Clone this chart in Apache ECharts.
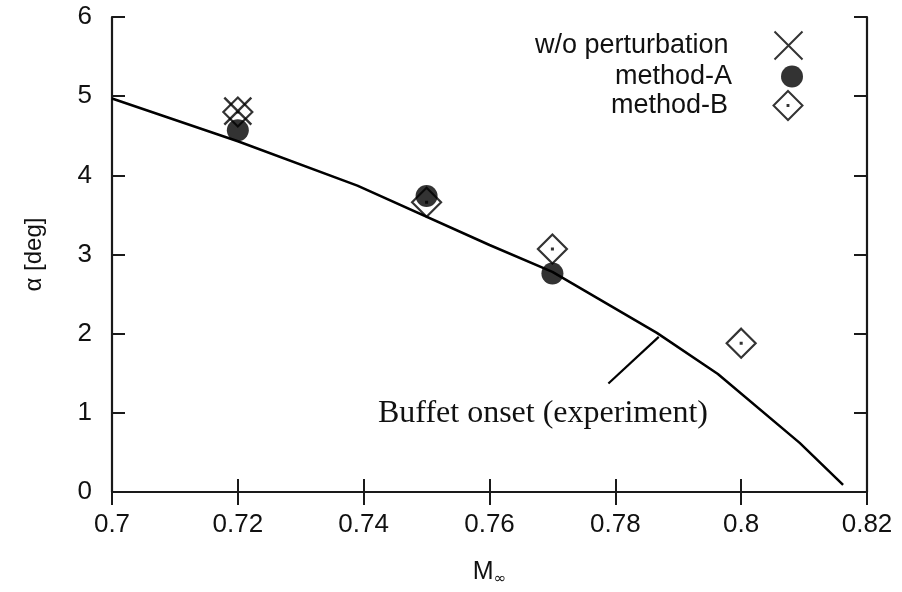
<!DOCTYPE html>
<html>
<head>
<meta charset="utf-8">
<script src="https://cdn.jsdelivr.net/npm/echarts@6/dist/echarts.min.js"></script>
<style>
  html, body { margin: 0; padding: 0; background: #fff; }
  #chart { width: 902px; height: 592px; }
</style>
</head>
<body>
<div id="chart"></div>
<script>
// Buffet onset boundary (experiment): free-stream Mach vs. angle of attack
const onsetMach  = [0.700, 0.720, 0.739, 0.760, 0.770, 0.7866, 0.7963, 0.8093, 0.8162];
const onsetAlpha = [4.97, 4.43, 3.87, 3.12, 2.78, 2.01, 1.49, 0.62, 0.09];

// Predicted onset points
const woPertMach   = [0.72];
const woPertAlpha  = [4.81];
const methodAMach  = [0.72, 0.75, 0.77];
const methodAAlpha = [4.57, 3.74, 2.76];
const methodBMach  = [0.72, 0.75, 0.77, 0.80];
const methodBAlpha = [4.80, 3.66, 3.07, 1.88];

// Leader line of the curve annotation and where its text sits
const pointerMach  = [0.7789, 0.7869];
const pointerAlpha = [1.37, 1.96];
const noteMach  = 0.7685;
const noteAlpha = 0.99;
const noteText  = 'Buffet onset (experiment)';

const seriesNames = ['w/o perturbation', 'method-A', 'method-B'];
const xTicks = { min: 0.7, max: 0.82, step: 0.02 };
const yTicks = { min: 0, max: 6, step: 1 };

const ink = '#000';
const textInk = '#111';
const crossPath   = 'path://M0,0L20,20M20,0L0,20';
const diamondPath = 'path://M10,0L20,10L10,20L0,10Z M9.7,9.7L10.3,9.7L10.3,10.3L9.7,10.3Z';

const pairs = (xs, ys) => xs.map((x, i) => [x, ys[i]]);

const axisLineStyle = { lineStyle: { color: '#1a1a1a', width: 2.2 } };
const tickStyle = { show: true, inside: true, length: 13, lineStyle: { color: '#1a1a1a', width: 2 } };
const labelFont = { fontFamily: 'Liberation Sans, Arial, sans-serif', fontSize: 26, color: textInk };

// one legend block per row so the text is right-aligned and the icons share a column
function legendAt(name, centerY, iconSize, right) {
  return {
    data: [name],
    right: right,
    top: centerY - iconSize / 2,
    padding: 0,
    orient: 'vertical',
    align: 'right',
    itemWidth: 110,
    itemHeight: iconSize,
    selectedMode: false,
    textStyle: { fontFamily: 'Liberation Sans, Arial, sans-serif', fontSize: 27, color: textInk }
  };
}

const chart = echarts.init(document.getElementById('chart'), null, { renderer: 'canvas' });

chart.setOption({
  backgroundColor: '#fff',
  animation: false,
  grid: { left: 112, right: 35, top: 17, bottom: 92, containLabel: false },
  legend: [
    legendAt(seriesNames[0], 43, 28, 97),
    legendAt(seriesNames[1], 74, 22, 99),
    legendAt(seriesNames[2], 103, 29, 97)
  ],
  xAxis: [
    {
      type: 'value', min: xTicks.min, max: xTicks.max, interval: xTicks.step,
      position: 'bottom',
      axisLine: axisLineStyle, axisTick: tickStyle, splitLine: { show: false },
      axisLabel: Object.assign({ margin: 20, formatter: v => String(+v.toFixed(2)) }, labelFont),
      name: '{m|M}{s|∞}',
      nameLocation: 'middle',
      nameGap: 66,
      nameTextStyle: {
        rich: {
          m: { fontFamily: 'Liberation Sans, Arial, sans-serif', fontSize: 25, color: textInk },
          s: { fontFamily: 'DejaVu Sans, sans-serif', fontSize: 15, color: textInk, padding: [14, 0, 0, 0] }
        }
      }
    },
    {
      type: 'value', min: xTicks.min, max: xTicks.max, interval: xTicks.step,
      position: 'top',
      axisLine: axisLineStyle, axisTick: tickStyle, splitLine: { show: false },
      axisLabel: { show: false }
    }
  ],
  yAxis: [
    {
      type: 'value', min: yTicks.min, max: yTicks.max, interval: yTicks.step,
      position: 'left',
      axisLine: axisLineStyle, axisTick: tickStyle, splitLine: { show: false },
      axisLabel: Object.assign({ margin: 20 }, labelFont),
      name: 'α [deg]',
      nameLocation: 'middle',
      nameRotate: 90,
      nameGap: 66,
      nameTextStyle: { fontFamily: 'Liberation Sans, Arial, sans-serif', fontSize: 24, color: textInk }
    },
    {
      type: 'value', min: yTicks.min, max: yTicks.max, interval: yTicks.step,
      position: 'right',
      axisLine: axisLineStyle, axisTick: tickStyle, splitLine: { show: false },
      axisLabel: { show: false }
    }
  ],
  series: [
    {
      name: 'Buffet onset',
      type: 'line',
      data: pairs(onsetMach, onsetAlpha),
      showSymbol: false,
      symbol: 'none',
      lineStyle: { color: ink, width: 2.5 },
      z: 2,
      markLine: {
        silent: true,
        symbol: ['none', 'none'],
        label: { show: false },
        lineStyle: { color: ink, width: 2.2, type: 'solid' },
        data: [[
          { coord: [pointerMach[0], pointerAlpha[0]] },
          { coord: [pointerMach[1], pointerAlpha[1]] }
        ]]
      },
      markPoint: {
        silent: true,
        symbol: 'circle',
        symbolSize: 0,
        data: [{ coord: [noteMach, noteAlpha] }],
        label: {
          show: true,
          position: 'inside',
          formatter: noteText,
          fontFamily: 'Liberation Serif, Times New Roman, serif',
          fontSize: 32,
          color: textInk
        }
      }
    },
    {
      name: seriesNames[2],
      type: 'scatter',
      data: pairs(methodBMach, methodBAlpha),
      symbol: diamondPath,
      symbolSize: 29,
      symbolKeepAspect: true,
      itemStyle: { color: 'none', borderColor: ink, borderWidth: 2.2 },
      z: 3
    },
    {
      name: seriesNames[0],
      type: 'scatter',
      data: pairs(woPertMach, woPertAlpha),
      symbol: crossPath,
      symbolSize: 27,
      symbolKeepAspect: true,
      itemStyle: { color: 'none', borderColor: ink, borderWidth: 2.4 },
      z: 4
    },
    {
      name: seriesNames[1],
      type: 'scatter',
      data: pairs(methodAMach, methodAAlpha),
      symbol: 'circle',
      symbolSize: 22,
      itemStyle: { color: ink },
      z: 5
    }
  ]
});
</script>
</body>
</html>
